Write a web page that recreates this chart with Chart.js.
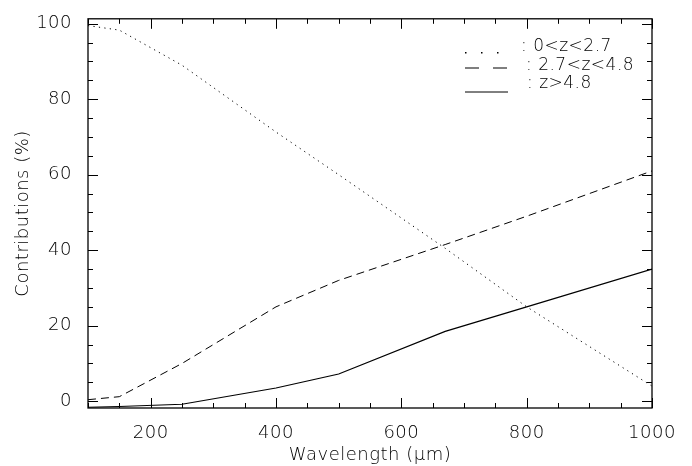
<!DOCTYPE html>
<html>
<head>
<meta charset="utf-8">
<script src="https://cdn.jsdelivr.net/npm/chart.js@4/dist/chart.umd.min.js"></script>
<style>
  html, body { margin: 0; padding: 0; background: #fff; }
</style>
</head>
<body>
<canvas id="myChart" width="692" height="466"></canvas>
<script>
// data
var wavelengths = [100, 150, 250, 400, 500, 670, 800, 1000];
var lowZ  = [99.5, 98.3, 89, 71.3, 60, 40.5, 25, 4];
var midZ  = [0.4, 1.2, 10, 25, 32, 41.5, 49, 61];
var highZ = [-1.6, -1.4, -0.8, 3.5, 7.2, 18.5, 25, 35];
var xTicks = [200, 400, 600, 800, 1000];
var yTicks = [0, 20, 40, 60, 80, 100];
var seriesLabels = [': 0<z<2.7', ': 2.7<z<4.8', ': z>4.8'];

var FONT = { family: 'DejaVu Sans', size: 18, weight: 200, lineHeight: 1.2 };

function pts(ys) {
    return wavelengths.map(function (w, i) { return { x: w, y: ys[i] }; });
}

// wider letter spacing, closer to the original plot font
var spacingPlugin = {
    id: 'spacing',
    beforeDraw: function (chart) { chart.ctx.letterSpacing = '0.5px'; }
};

// frame, inward ticks on all four sides, and the legend
var framePlugin = {
    id: 'frame',
    afterDatasetsDraw: function (chart) {
        var ctx = chart.ctx, a = chart.chartArea;
        var x = chart.scales.x, y = chart.scales.y;
        ctx.save();
        ctx.strokeStyle = '#000';
        ctx.lineWidth = 1.3;
        ctx.strokeRect(a.left, a.top, a.right - a.left, a.bottom - a.top);
        ctx.lineWidth = 1;
        ctx.beginPath();
        for (var v = 100; v <= 1000; v += 50) {
            var len = v % 200 === 0 ? 10 : 5;
            var px = Math.round(x.getPixelForValue(v)) + 0.5;
            ctx.moveTo(px, a.bottom); ctx.lineTo(px, a.bottom - len);
            ctx.moveTo(px, a.top); ctx.lineTo(px, a.top + len);
        }
        for (var w = 0; w <= 100; w += 5) {
            var l2 = w % 20 === 0 ? 10 : 5;
            var py = Math.round(y.getPixelForValue(w)) + 0.5;
            ctx.moveTo(a.left, py); ctx.lineTo(a.left + l2, py);
            ctx.moveTo(a.right, py); ctx.lineTo(a.right - l2, py);
        }
        ctx.stroke();

        // legend
        ctx.font = '200 17px "DejaVu Sans"';
        ctx.fillStyle = '#000';
        ctx.textBaseline = 'middle';
        var rows = [47, 66, 84];
        var textX = [521, 526, 527];
        chart.data.datasets.forEach(function (ds, i) {
            var ry = rows[i];
            ctx.beginPath();
            if (i === 0) {
                [465, 481, 497].forEach(function (dx) {
                    ctx.fillRect(dx, ry + 5, 1.5, 1.5);
                });
            } else if (i === 1) {
                ctx.setLineDash([14, 14]);
                ctx.moveTo(465, ry + 2); ctx.lineTo(508, ry + 2);
                ctx.stroke();
            } else {
                ctx.setLineDash([]);
                ctx.moveTo(465, ry + 8); ctx.lineTo(508, ry + 8);
                ctx.stroke();
            }
            ctx.setLineDash([]);
            ctx.fillText(seriesLabels[i], textX[i], ry);
        });
        ctx.restore();
    }
};

var myChart = new Chart(document.getElementById('myChart').getContext('2d'), {
    type: 'line',
    data: {
        datasets: [{
            label: '0<z<2.7',
            data: pts(lowZ),
            borderColor: '#000',
            borderWidth: 1,
            borderDash: [1.2, 4.3],
            pointRadius: 0,
            tension: 0
        }, {
            label: '2.7<z<4.8',
            data: pts(midZ),
            borderColor: '#000',
            borderWidth: 1,
            borderDash: [8, 5],
            pointRadius: 0,
            tension: 0
        }, {
            label: 'z>4.8',
            data: pts(highZ),
            borderColor: '#000',
            borderWidth: 1.2,
            pointRadius: 0,
            tension: 0
        }]
    },
    options: {
        responsive: false,
        animation: false,
        devicePixelRatio: 1,
        layout: { padding: { left: 0, right: 40, top: 8, bottom: 0 } },
        plugins: {
            legend: { display: false },
            tooltip: { enabled: false }
        },
        scales: {
            x: {
                type: 'linear',
                min: 100,
                max: 1000,
                afterBuildTicks: function (s) { s.ticks = xTicks.map(function (v) { return { value: v }; }); },
                afterFit: function (s) { s.height = 58; },
                grid: { display: false },
                border: { display: false },
                ticks: {
                    color: '#000', font: FONT, padding: 7, maxRotation: 0, autoSkip: false,
                    callback: function (v) { return String(v); }
                },
                title: { display: true, text: 'Wavelength (μm)', color: '#000', font: FONT, padding: { top: 0, bottom: 0 } }
            },
            y: {
                type: 'linear',
                min: -1.8,
                max: 101.3,
                afterBuildTicks: function (s) { s.ticks = yTicks.map(function (v) { return { value: v }; }); },
                afterFit: function (s) { s.width = 88; },
                grid: { display: false },
                border: { display: false },
                ticks: {
                    color: '#000', font: FONT, padding: 8, autoSkip: false,
                    callback: function (v) { return String(v); }
                },
                title: { display: true, text: 'Contributions (%)', color: '#000', font: FONT, padding: { top: 13, bottom: 0 } }
            }
        }
    },
    plugins: [spacingPlugin, framePlugin]
});
</script>
</body>
</html>
